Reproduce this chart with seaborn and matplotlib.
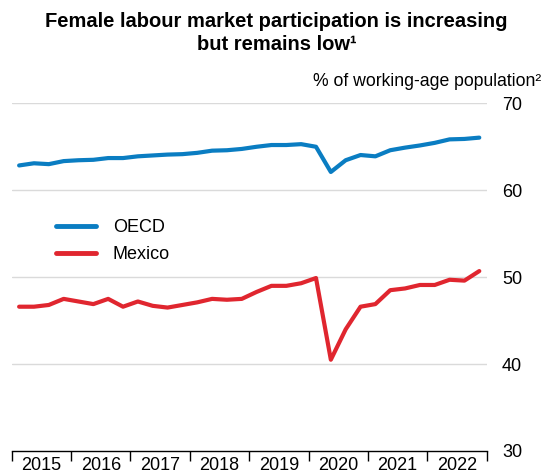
import numpy as np
import pandas as pd
import matplotlib
matplotlib.use("Agg")
import matplotlib.pyplot as plt
import seaborn as sns

# Quarterly female participation rates, 2015Q1 - 2022Q4
quarters = [f"{y}Q{q}" for y in range(2015, 2023) for q in range(1, 5)]
oecd = [62.85, 63.1, 63.0, 63.35, 63.45, 63.5, 63.7, 63.7,
        63.9, 64.0, 64.1, 64.15, 64.3, 64.55, 64.6, 64.75,
        65.0, 65.2, 65.2, 65.3, 65.0, 62.1, 63.45, 64.05,
        63.9, 64.6, 64.9, 65.15, 65.45, 65.85, 65.9, 66.05]
mexico = [46.6, 46.6, 46.8, 47.5, 47.2, 46.9, 47.5, 46.6,
          47.2, 46.7, 46.5, 46.8, 47.1, 47.5, 47.4, 47.5,
          48.3, 49.0, 49.0, 49.3, 49.9, 40.5, 44.0, 46.6,
          46.9, 48.5, 48.7, 49.1, 49.1, 49.7, 49.6, 50.7]
years = list(range(2015, 2023))
y_ticks = [30, 40, 50, 60, 70]

# place each quarter at the middle of its span on a fractional-year axis
t = [int(q[:4]) + (int(q[-1]) - 0.5) / 4 for q in quarters]
df = pd.DataFrame({
    "t": t * 2,
    "value": oecd + mexico,
    "series": ["OECD"] * len(oecd) + ["Mexico"] * len(mexico),
})

sns.set_theme(style="white")
plt.rcParams["font.family"] = ["Liberation Sans", "DejaVu Sans"]
plt.rcParams["text.color"] = "black"
plt.rcParams["xtick.color"] = "black"
plt.rcParams["ytick.color"] = "black"

fig = plt.figure(figsize=(5.53, 4.74), dpi=100)
ax = fig.add_axes([11.7 / 553, 23 / 474, 475 / 553, 347.7 / 474])

sns.lineplot(data=df, x="t", y="value", hue="series",
             palette={"OECD": "#0A7DC2", "Mexico": "#E0262F"},
             linewidth=3.0, ax=ax)

ax.set_xlim(2015, 2023)
ax.set_ylim(30, 70)
ax.set_xlabel("")
ax.set_ylabel("")

# horizontal gridlines
for v in y_ticks[1:]:
    ax.axhline(v, color="#DADADA", linewidth=1.0, zorder=0)

ax.yaxis.tick_right()
ax.set_yticks(y_ticks)
ax.tick_params(axis="y", length=0, pad=11, labelsize=13, labelcolor="black")

# year boundaries as ticks, year labels centred between them
ax.set_xticks(list(range(2015, 2024)))
ax.set_xticklabels([])
ax.set_xticks([y + 0.5 for y in years], minor=True)
ax.set_xticklabels([str(y) for y in years], minor=True)
ax.tick_params(axis="x", which="major", length=7, width=1, color="black",
               direction="out", bottom=True)
ax.tick_params(axis="x", which="minor", length=0, pad=4, labelsize=13,
               labelcolor="black", bottom=True)

for s in ["top", "left", "right"]:
    ax.spines[s].set_visible(False)
ax.spines["bottom"].set_color("black")
ax.spines["bottom"].set_linewidth(1.0)

leg = ax.legend(loc="upper left", bbox_to_anchor=(56 / 553, 1 - 219 / 474),
                bbox_transform=fig.transFigure, borderpad=0, borderaxespad=0,
                frameon=False, fontsize=13, handlelength=2.2,
                handletextpad=0.95, labelspacing=0.55)
for line in leg.get_lines():
    line.set_linewidth(3.5)
for txt in leg.get_texts():
    txt.set_color("black")

fig.text(0.5, 1 - 33 / 474, "Female labour market participation is increasing\nbut remains low\u00b9",
         ha="center", va="center", fontsize=14.5, fontweight="bold", linespacing=1.3,
         color="black")
fig.text(541 / 553, 1 - 82 / 474, "% of working-age population\u00b2",
         ha="right", va="center", fontsize=12.7, color="black")

fig.savefig("out.png", dpi=100)
